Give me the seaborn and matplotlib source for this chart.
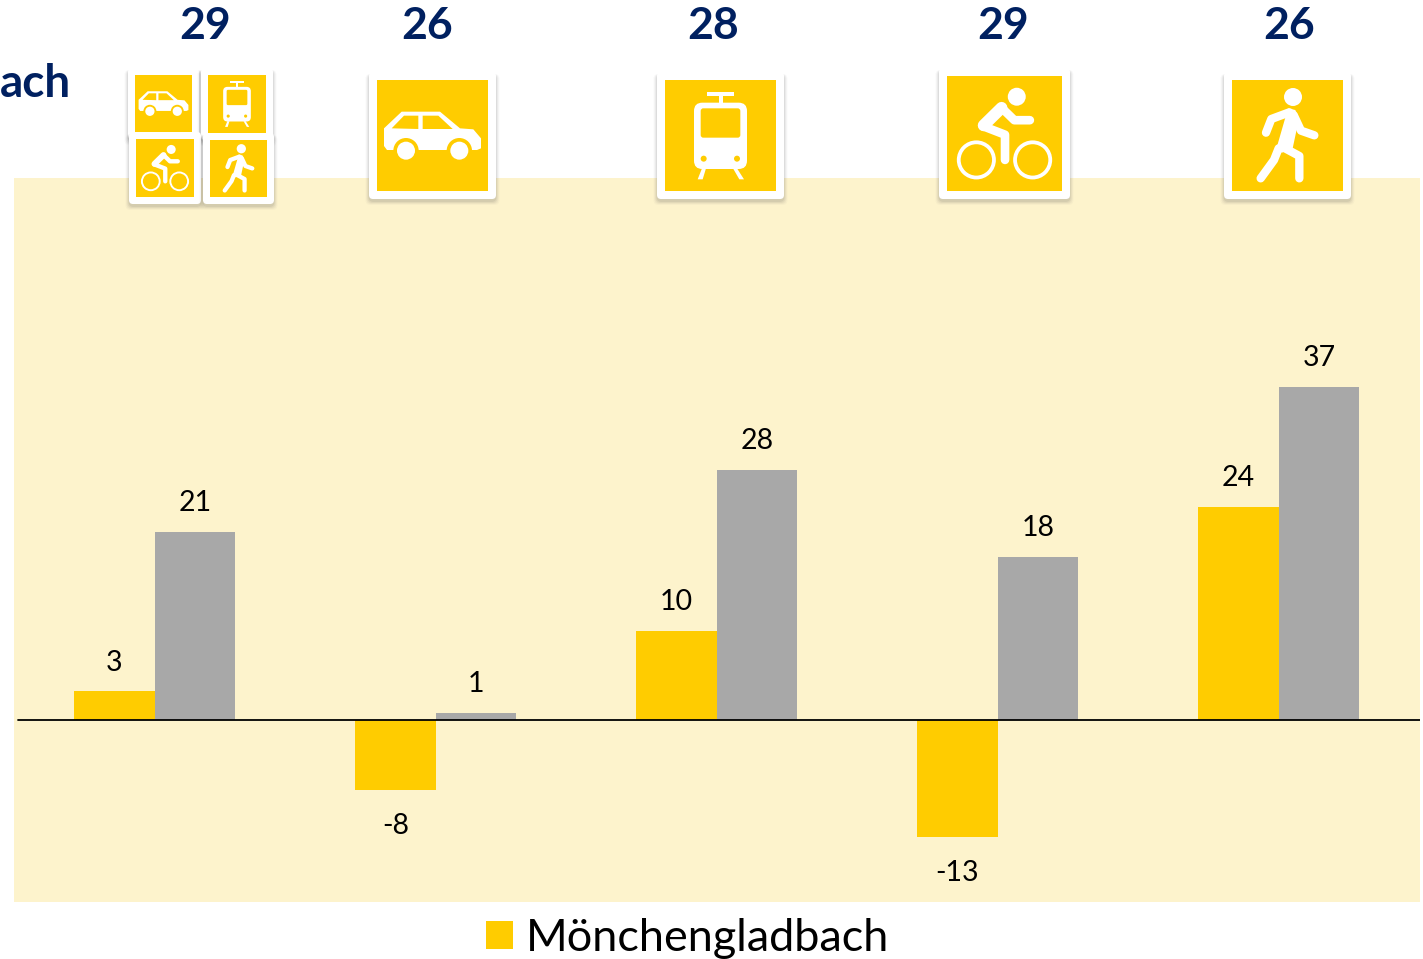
import pandas as pd
import matplotlib.pyplot as plt
import seaborn as sns
from matplotlib.patches import Rectangle, Circle, Polygon, FancyBboxPatch

# =============================================================================
# DATA
# =============================================================================
modes = ["Alle", "Auto", "ÖPNV", "Fahrrad", "Zu Fuß"]
city_values = [3.2, -7.8, 9.9, -13.0, 23.7]
other_values = [20.9, 0.8, 27.8, 18.1, 37.0]
top_counts = ["29", "26", "28", "29", "26"]
city_name = "Mönchengladbach"
other_name = "Vergleich"

YELLOW = "#FFCC00"
GREY = "#A8A8A8"
PALE = "#FDF3CC"
NAVY = "#002060"

W, H = 1423, 959


# =============================================================================
# ICONS (drawn on a pixel-sized overlay, glyphs on a 333 unit square)
# =============================================================================
def stroke(ov, pts, x0, y0, k, width, color="white"):
    xs = [x0 + p[0] * k for p in pts]
    ys = [y0 + p[1] * k for p in pts]
    ov.plot(xs, ys, color=color, lw=width * k * 0.72,
            solid_capstyle="round", solid_joinstyle="round")


def poly(ov, pts, x0, y0, k, color="white"):
    ov.add_patch(Polygon([(x0 + a * k, y0 + b * k) for a, b in pts], closed=True,
                         fc=color, ec="none"))


def circ(ov, c, r, x0, y0, k, color="white"):
    ov.add_patch(Circle((x0 + c[0] * k, y0 + c[1] * k), r * k, fc=color, ec="none"))


def rrect(ov, x, y, w, h, r, color):
    ov.add_patch(FancyBboxPatch((x + r, y + r), w - 2 * r, h - 2 * r,
                                boxstyle=f"round,pad={r},rounding_size={r}",
                                fc=color, ec="none"))


def car(ov, x0, y0, k):
    poly(ov, [(21, 145), (74, 95), (189, 95), (249, 145), (289, 148), (312, 175),
              (312, 205), (300, 210), (30, 210), (21, 198)], x0, y0, k)
    for cx in (87, 247):
        circ(ov, (cx, 212), 38, x0, y0, k, YELLOW)
        circ(ov, (cx, 212), 27, x0, y0, k)
    poly(ov, [(44, 145), (81, 107), (124, 107), (124, 147)], x0, y0, k, YELLOW)
    poly(ov, [(137, 107), (184, 107), (227, 147), (137, 147)], x0, y0, k, YELLOW)


def train(ov, x0, y0, k):
    ov.add_patch(Rectangle((x0 + 127 * k, y0 + 35 * k), 79 * k, 13 * k, fc="white", ec="none"))
    ov.add_patch(Rectangle((x0 + 161 * k, y0 + 48 * k), 12 * k, 22 * k, fc="white", ec="none"))
    rrect(ov, x0 + 87 * k, y0 + 68 * k, 159 * k, 199 * k, 25 * k, "white")
    rrect(ov, x0 + 107 * k, y0 + 85 * k, 119 * k, 88 * k, 8 * k, YELLOW)
    circ(ov, (116, 236), 9, x0, y0, k, YELLOW)
    circ(ov, (216, 236), 9, x0, y0, k, YELLOW)
    poly(ov, [(98, 298), (111, 265), (123, 265), (113, 298)], x0, y0, k)
    poly(ov, [(204, 265), (216, 265), (237, 298), (223, 298)], x0, y0, k)


def bike(ov, x0, y0, k):
    circ(ov, (202, 60), 26, x0, y0, k)
    for cx in (85, 248):
        ov.add_patch(Circle((x0 + cx * k, y0 + 243 * k), 51 * k, fc="none", ec="white",
                            lw=11 * k * 0.72))
    stroke(ov, [(240, 128), (195, 128), (158, 92)], x0, y0, k, 25)
    stroke(ov, [(158, 92), (106, 143)], x0, y0, k, 34)
    stroke(ov, [(106, 146), (168, 170), (168, 243)], x0, y0, k, 25)


def walker(ov, x0, y0, k):
    circ(ov, (183, 51), 27, x0, y0, k)
    stroke(ov, [(172, 97), (118, 117), (102, 158)], x0, y0, k, 25)
    stroke(ov, [(185, 105), (207, 152), (247, 166)], x0, y0, k, 25)
    poly(ov, [(168, 85), (190, 90), (200, 120), (182, 205), (150, 218), (132, 210)], x0, y0, k)
    stroke(ov, [(150, 200), (202, 228), (202, 295)], x0, y0, k, 25)
    stroke(ov, [(140, 205), (126, 240), (86, 295)], x0, y0, k, 25)


def icon(ov, glyph, x, y, size, pad):
    # soft shadow, white tile, yellow square, then the glyph
    for grow, a in ((4, 0.03), (3, 0.05), (2, 0.07), (1, 0.09)):
        rrect(ov, x - pad - grow + 0.5, y - pad + 2, size + 2 * pad + 2 * grow - 1,
              size + 2 * pad + grow, 5, (0.3, 0.3, 0.3, a))
    rrect(ov, x - pad, y - pad, size + 2 * pad, size + 2 * pad, 4, "white")
    ov.add_patch(Rectangle((x, y), size, size, fc=YELLOW, ec="none"))
    glyph(ov, x, y, size / 333)


# =============================================================================
# MAIN
# =============================================================================
def main():
    sns.set_theme(style="white")
    plt.rcParams["font.family"] = ["Lato", "DejaVu Sans"]

    df = pd.DataFrame({
        "mode": modes * 2,
        "value": city_values + other_values,
        "region": [city_name] * len(modes) + [other_name] * len(modes),
    })

    fig = plt.figure(figsize=(W / 100, H / 100), dpi=100, facecolor="white")
    ax = fig.add_axes([14 / W, (H - 902) / H, 1406 / W, 724 / H])
    ax.set_facecolor(PALE)

    sns.barplot(data=df, x="mode", y="value", hue="region", order=modes,
                palette=[YELLOW, GREY], width=0.573, saturation=1, linewidth=0,
                edgecolor="none", ax=ax)

    ax.set_xlim(-0.5, 4.502)
    ax.set_ylim(-20.2, 60.2)
    ax.set(xlabel="", ylabel="", xticks=[], yticks=[])
    sns.despine(ax=ax, left=True, bottom=True)

    for c in ax.containers:
        for bar in c:
            v = bar.get_height()
            ax.annotate(f"{v:.0f}", (bar.get_x() + bar.get_width() / 2, v),
                        xytext=(0, 20.6 if v > 0 else -25.8), textcoords="offset points",
                        ha="center", va="center", fontsize=20.5, color="black")
    ax.axhline(0, xmin=4 / 1406, color="black", lw=1.3)

    handles = ax.get_legend().legend_handles[:1]
    ax.get_legend().remove()
    fig.legend(handles, [city_name], loc="center", bbox_to_anchor=(687.5 / W, 1 - 938.5 / H),
               frameon=False, fontsize=32.4, handlelength=0.6, handleheight=0.6,
               handletextpad=0.27, borderpad=0, labelcolor="black")

    ov = fig.add_axes([0, 0, 1, 1], facecolor="none")
    ov.set_xlim(0, W)
    ov.set_ylim(H, 0)
    ov.axis("off")

    for x, t in zip([205, 427, 713, 1003, 1289], top_counts):
        ov.text(x, 26, t, ha="center", va="center", fontsize=32, fontweight="bold", color=NAVY)
    ov.text(0, 84, "ach", ha="left", va="center", fontsize=33, fontweight="bold", color=NAVY)

    icon(ov, car, 135, 75, 57, 7)
    icon(ov, train, 208, 75, 58, 7)
    icon(ov, bike, 136, 139, 58, 7)
    icon(ov, walker, 210, 140, 57, 7)
    icon(ov, car, 377, 80, 111, 8)
    icon(ov, train, 665, 80, 111, 8)
    icon(ov, bike, 947, 76, 115, 8)
    icon(ov, walker, 1232, 80, 111, 8)

    fig.savefig("out.png", dpi=100)
    plt.close(fig)


if __name__ == "__main__":
    main()
